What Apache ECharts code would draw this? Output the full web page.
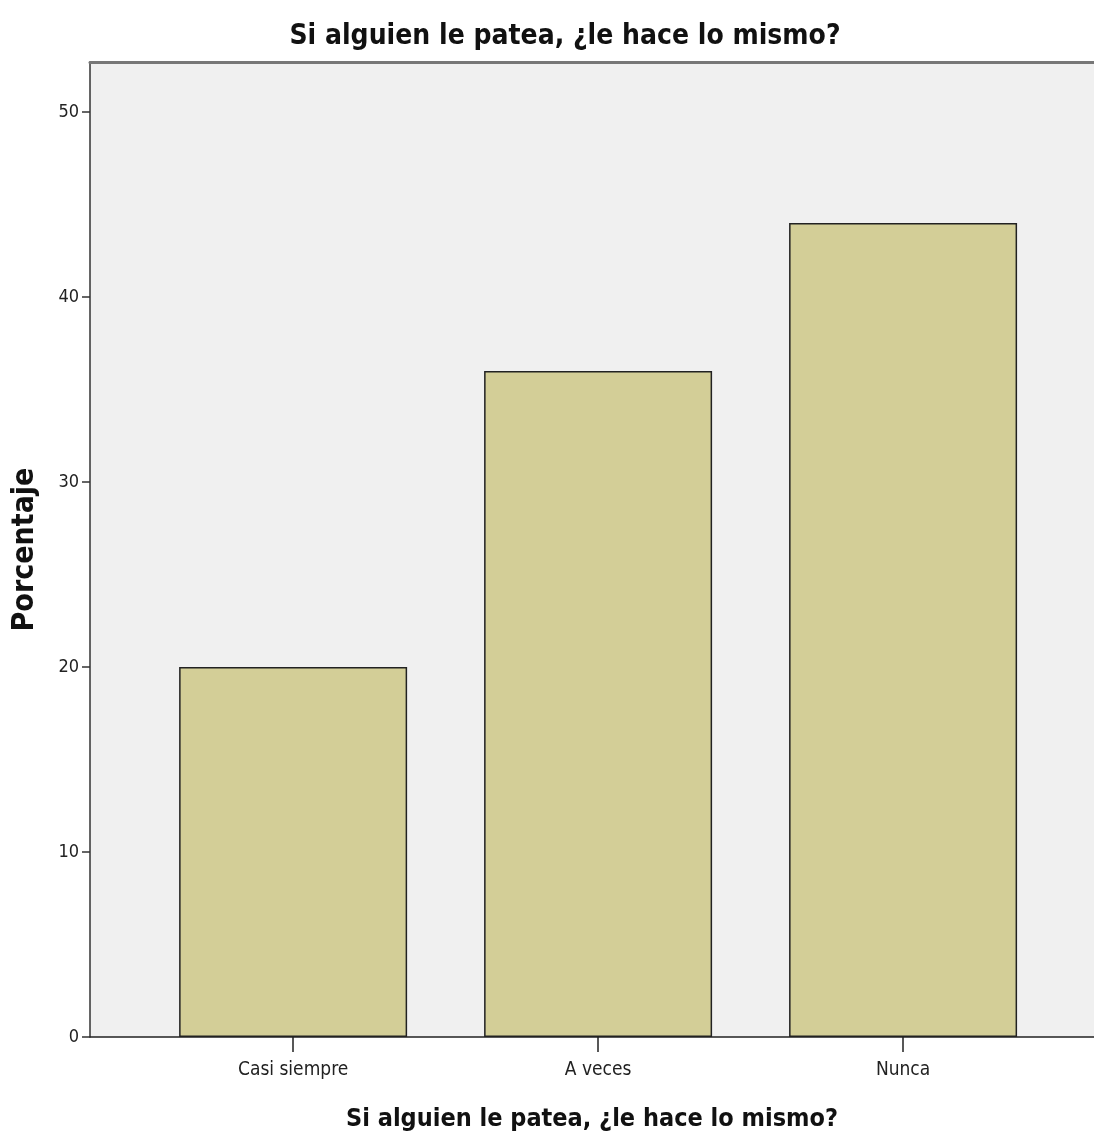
<!DOCTYPE html>
<html><head><meta charset="utf-8">
<script src="https://cdn.jsdelivr.net/npm/echarts@6/dist/echarts.min.js"></script>
<style>html,body{margin:0;padding:0;background:#fff}#c{width:1094px;height:1144px}</style>
</head><body><div id="c"></div>
<script>
const categories = ["Casi siempre", "A veces", "Nunca"];
const percentages = [20, 36, 44];
const yTicks = [0, 10, 20, 30, 40, 50];
const titleText = "Si alguien le patea, ¿le hace lo mismo?";
const yName = "Porcentaje";

const positions = categories.map((c, i) => i + 1);
const barData = positions.map((p, i) => [p, percentages[i]]);
const narrow = 'DejaVu Sans Condensed';

const chart = echarts.init(document.getElementById('c'), null, {renderer: 'canvas'});
chart.setOption({
  animation: false,
  backgroundColor: '#ffffff',
  title: {
    text: titleText, left: 560, top: 18, textAlign: 'center',
    textStyle: {fontFamily: narrow, fontWeight: 'bold', fontSize: 28, color: '#111'}
  },
  grid: {left: 90, right: 0, top: 62, bottom: 107, show: true, backgroundColor: '#f0f0f0', borderWidth: 0},
  xAxis: [{
    type: 'value', min: 0.334, max: 3.626,
    splitLine: {show: false},
    axisLine: {show: true, lineStyle: {color: '#222', width: 1.5}},
    axisTick: {show: true, length: 15, lineStyle: {color: '#222', width: 1.5}, customValues: positions},
    axisLabel: {
      margin: 24, fontFamily: narrow, fontSize: 19, color: '#222',
      customValues: positions,
      formatter: v => categories[Math.round(v) - 1] || ''
    },
    name: titleText, nameLocation: 'middle', nameGap: 70,
    nameTextStyle: {fontFamily: narrow, fontWeight: 'bold', fontSize: 25, color: '#111'}
  }, {
    type: 'value', position: 'top', min: 0.334, max: 3.626,
    axisLine: {show: true, lineStyle: {color: '#777', width: 3}},
    axisTick: {show: false}, axisLabel: {show: false}, splitLine: {show: false}
  }],
  yAxis: {
    type: 'value', min: 0, max: 52.7, interval: 10,
    splitLine: {show: false},
    axisLine: {show: true, lineStyle: {color: '#333', width: 1.5}},
    axisTick: {show: true, length: 8, lineStyle: {color: '#333', width: 1.5}, customValues: yTicks},
    axisLabel: {margin: 11, fontFamily: narrow, fontSize: 18, color: '#222', customValues: yTicks},
    name: yName, nameLocation: 'middle', nameGap: 50, nameRotate: 90,
    nameTextStyle: {fontFamily: narrow, fontWeight: 'bold', fontSize: 30, color: '#111'}
  },
  series: [{
    type: 'bar', data: barData, barWidth: 228,
    itemStyle: {color: '#d3ce97', borderColor: '#222', borderWidth: 1.5}
  }]
});
</script></body></html>
